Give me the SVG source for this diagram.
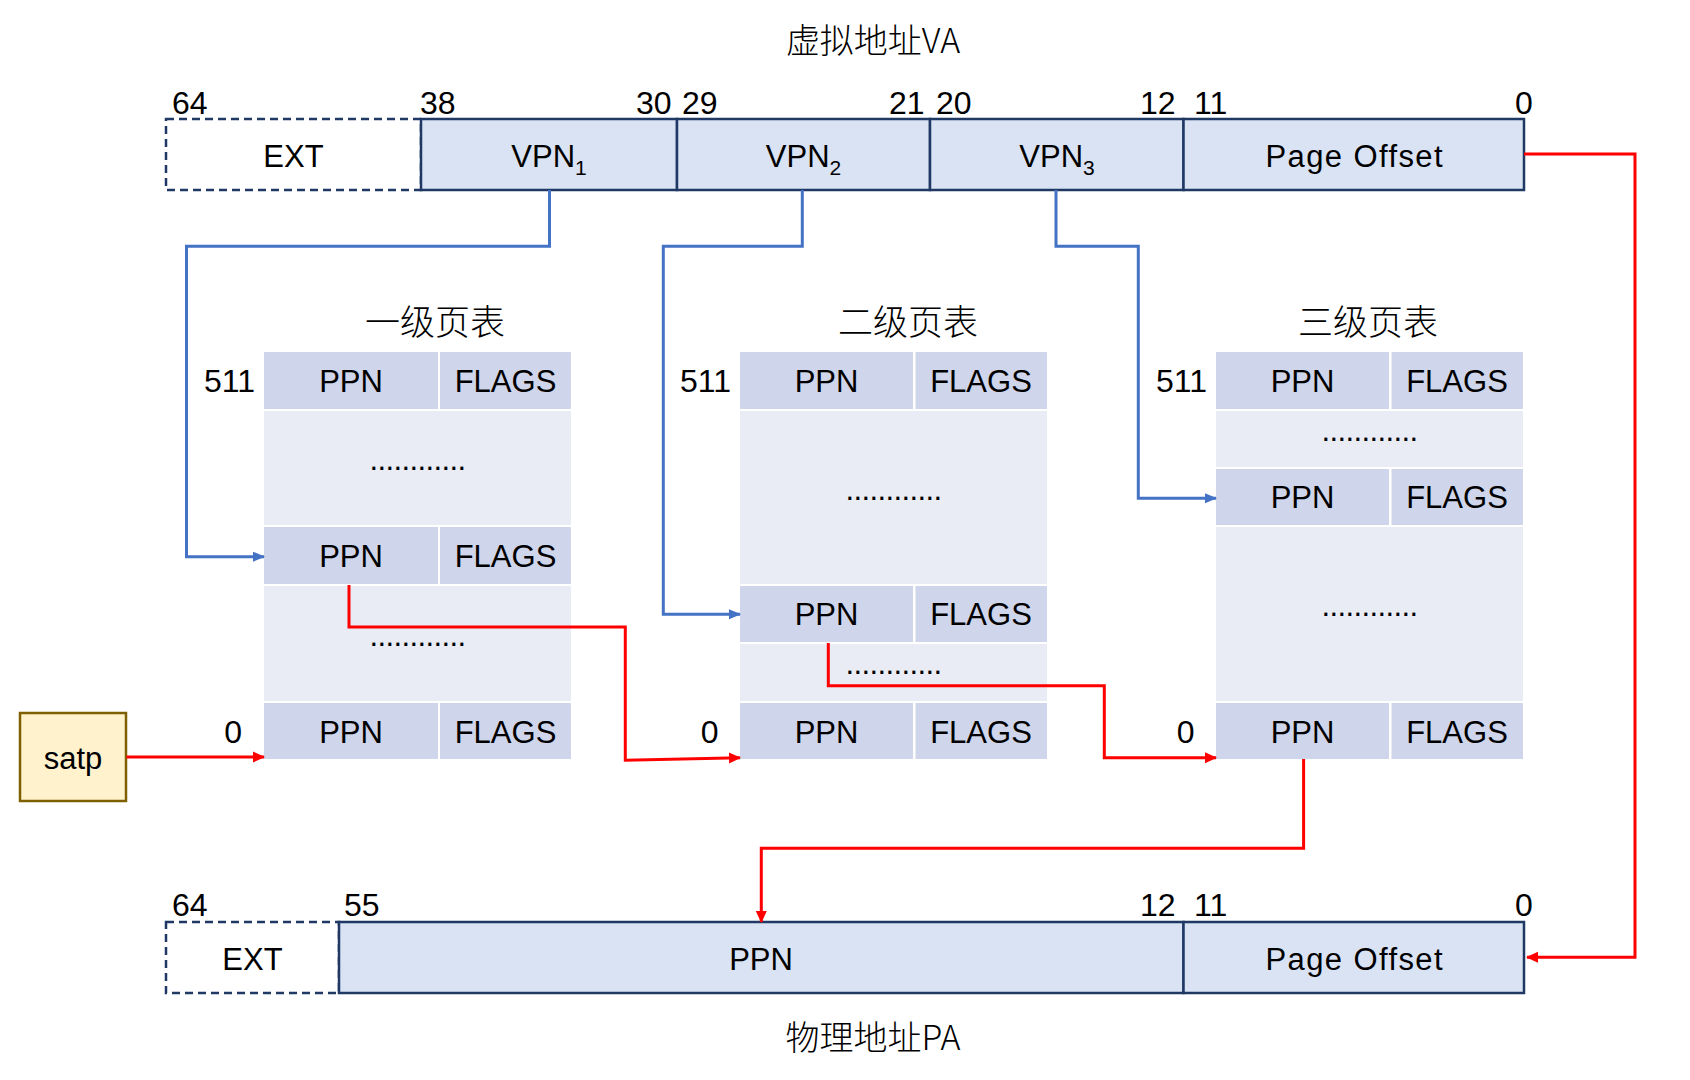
<svg xmlns="http://www.w3.org/2000/svg" width="1690" height="1080" viewBox="0 0 1690 1080">
<defs>
<style>
text{font-family:"Liberation Sans",Arial,"Noto Sans CJK SC",sans-serif;fill:#000;}
.lbl{font-size:32px;}
.cell{font-size:31px;text-anchor:middle;}
.title{font-family:"Noto Sans CJK SC",sans-serif;font-size:34px;font-weight:300;text-anchor:middle;}
.ttl{font-family:"Noto Sans CJK SC",sans-serif;font-size:35px;font-weight:300;text-anchor:middle;}
.dots{font-size:31px;text-anchor:middle;letter-spacing:-0.6px;}
.bar{fill:#DAE3F3;stroke:#1F3864;stroke-width:2.5;}
.ext{fill:#FFFFFF;stroke:#1F3864;stroke-width:2.5;stroke-dasharray:8 5;}
.hd{fill:#CFD5EA;}
.bd{fill:#E9EBF5;}
.blue{fill:none;stroke:#4472C4;stroke-width:3;}
.red{fill:none;stroke:#FF0000;stroke-width:3;}
.end{text-anchor:end;}
</style>
<marker id="ab" viewBox="0 0 12 12" refX="11" refY="6" markerWidth="12" markerHeight="12" markerUnits="userSpaceOnUse" orient="auto">
<path d="M0,1 L12,6 L0,11 z" fill="#4472C4"/>
</marker>
<marker id="ar" viewBox="0 0 12 12" refX="11" refY="6" markerWidth="12" markerHeight="12" markerUnits="userSpaceOnUse" orient="auto">
<path d="M0,0.5 L12,6 L0,11.5 z" fill="#FF0000"/>
</marker>
</defs>
<rect width="1690" height="1080" fill="#FFFFFF"/>

<!-- Virtual address -->
<g id="va">
<text class="title" x="873" y="53">虚拟地址VA</text>
<rect class="ext" x="166" y="119" width="255" height="71"/>
<rect class="bar" x="421" y="119" width="256" height="71"/>
<rect class="bar" x="677" y="119" width="253" height="71"/>
<rect class="bar" x="930" y="119" width="253.5" height="71"/>
<rect class="bar" x="1183.5" y="119" width="340.5" height="71"/>
<text class="cell" x="293.5" y="167">EXT</text>
<text class="cell" x="549" y="167">VPN<tspan font-size="21" dy="8">1</tspan></text>
<text class="cell" x="803.5" y="167">VPN<tspan font-size="21" dy="8">2</tspan></text>
<text class="cell" x="1057" y="167">VPN<tspan font-size="21" dy="8">3</tspan></text>
<text class="cell" x="1354" y="167" font-size="32" textLength="177" lengthAdjust="spacing">Page Offset</text>
<text class="lbl" x="172" y="114">64</text>
<text class="lbl" x="420" y="114">38</text>
<text class="lbl" x="636" y="114">30</text>
<text class="lbl" x="682" y="114">29</text>
<text class="lbl" x="889" y="114">21</text>
<text class="lbl" x="936" y="114">20</text>
<text class="lbl" x="1140" y="114">12</text>
<text class="lbl" x="1194" y="114">11</text>
<text class="lbl" x="1515" y="114">0</text>
</g>

<!-- Table 1 -->
<g id="table1">
<text class="ttl" x="435" y="335">一级页表</text>
<rect class="hd" x="264" y="352" width="174" height="57"/>
<rect class="hd" x="440" y="352" width="131" height="57"/>
<rect class="bd" x="264" y="411" width="307" height="114"/>
<rect class="hd" x="264" y="527" width="174" height="57"/>
<rect class="hd" x="440" y="527" width="131" height="57"/>
<rect class="bd" x="264" y="586" width="307" height="115"/>
<rect class="hd" x="264" y="703" width="174" height="56"/>
<rect class="hd" x="440" y="703" width="131" height="56"/>
<text class="cell" x="351" y="392">PPN</text>
<text class="cell" x="505.5" y="392">FLAGS</text>
<text class="dots" x="417.5" y="470">............</text>
<text class="cell" x="351" y="567">PPN</text>
<text class="cell" x="505.5" y="567">FLAGS</text>
<text class="dots" x="417.5" y="646">............</text>
<text class="cell" x="351" y="743">PPN</text>
<text class="cell" x="505.5" y="743">FLAGS</text>
<text class="lbl end" x="255" y="392">511</text>
<text class="lbl end" x="242" y="743">0</text>
</g>

<!-- Table 2 -->
<g id="table2">
<text class="ttl" x="908" y="335">二级页表</text>
<rect class="hd" x="740" y="352" width="173" height="57"/>
<rect class="hd" x="915.5" y="352" width="131.5" height="57"/>
<rect class="bd" x="740" y="411" width="307" height="173"/>
<rect class="hd" x="740" y="586" width="173" height="56"/>
<rect class="hd" x="915.5" y="586" width="131.5" height="56"/>
<rect class="bd" x="740" y="644" width="307" height="57"/>
<rect class="hd" x="740" y="703" width="173" height="56"/>
<rect class="hd" x="915.5" y="703" width="131.5" height="56"/>
<text class="cell" x="826.5" y="392">PPN</text>
<text class="cell" x="981" y="392">FLAGS</text>
<text class="dots" x="893.5" y="500">............</text>
<text class="cell" x="826.5" y="625">PPN</text>
<text class="cell" x="981" y="625">FLAGS</text>
<text class="dots" x="893.5" y="674">............</text>
<text class="cell" x="826.5" y="743">PPN</text>
<text class="cell" x="981" y="743">FLAGS</text>
<text class="lbl end" x="731" y="392">511</text>
<text class="lbl end" x="718.5" y="743">0</text>
</g>

<!-- Table 3 -->
<g id="table3">
<text class="ttl" x="1368" y="335">三级页表</text>
<rect class="hd" x="1216" y="352" width="173" height="57"/>
<rect class="hd" x="1391.5" y="352" width="131.5" height="57"/>
<rect class="bd" x="1216" y="411" width="307" height="56"/>
<rect class="hd" x="1216" y="469" width="173" height="56"/>
<rect class="hd" x="1391.5" y="469" width="131.5" height="56"/>
<rect class="bd" x="1216" y="527" width="307" height="174"/>
<rect class="hd" x="1216" y="703" width="173" height="56"/>
<rect class="hd" x="1391.5" y="703" width="131.5" height="56"/>
<text class="cell" x="1302.5" y="392">PPN</text>
<text class="cell" x="1457" y="392">FLAGS</text>
<text class="dots" x="1369.5" y="441">............</text>
<text class="cell" x="1302.5" y="508">PPN</text>
<text class="cell" x="1457" y="508">FLAGS</text>
<text class="dots" x="1369.5" y="616">............</text>
<text class="cell" x="1302.5" y="743">PPN</text>
<text class="cell" x="1457" y="743">FLAGS</text>
<text class="lbl end" x="1207" y="392">511</text>
<text class="lbl end" x="1194.5" y="743">0</text>
</g>

<!-- satp -->
<g id="satp">
<rect x="20" y="713" width="106" height="88" fill="#FFF2CC" stroke="#7F6000" stroke-width="2.5"/>
<text class="cell" x="73" y="769" font-size="32">satp</text>
</g>

<!-- Physical address -->
<g id="pa">
<rect class="ext" x="166" y="922" width="173" height="71"/>
<rect class="bar" x="339" y="922" width="844.5" height="71"/>
<rect class="bar" x="1183.5" y="922" width="340.5" height="71"/>
<text class="cell" x="252.5" y="970">EXT</text>
<text class="cell" x="761" y="970">PPN</text>
<text class="cell" x="1354" y="970" font-size="32" textLength="177" lengthAdjust="spacing">Page Offset</text>
<text class="lbl" x="172" y="916">64</text>
<text class="lbl" x="344" y="916">55</text>
<text class="lbl" x="1140" y="916">12</text>
<text class="lbl" x="1194" y="916">11</text>
<text class="lbl" x="1515" y="916">0</text>
<text class="title" x="873" y="1050">物理地址PA</text>
</g>

<!-- Connectors -->
<g id="connectors">
<path class="blue" d="M549.5,190 V246.3 H186.5 V556.7 H264" marker-end="url(#ab)"/>
<path class="blue" d="M802.3,190 V246.3 H663.3 V614.3 H740" marker-end="url(#ab)"/>
<path class="blue" d="M1056,190 V246.3 H1138.3 V498.3 H1216" marker-end="url(#ab)"/>
<path class="red" d="M126.3,757 H264" marker-end="url(#ar)"/>
<path class="red" d="M349,585 V627 H625.3 V760.3 L740,757.7" marker-end="url(#ar)"/>
<path class="red" d="M828.3,643 V685.7 H1104.3 V757.7 H1216" marker-end="url(#ar)"/>
<path class="red" d="M1303.6,759 V848.3 H761.3 V922" marker-end="url(#ar)"/>
<path class="red" d="M1524,154 H1635 V957.3 H1527" marker-end="url(#ar)"/>
</g>
</svg>
